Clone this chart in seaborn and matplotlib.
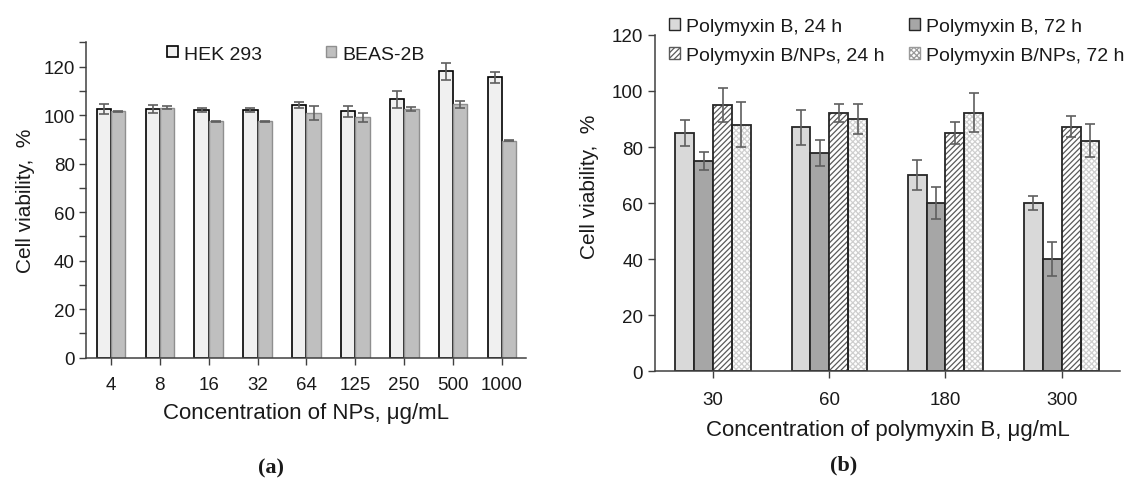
import matplotlib
matplotlib.use("Agg")
import matplotlib.pyplot as plt
import numpy as np
import pandas as pd
import seaborn as sns
from matplotlib.patches import Patch, Rectangle
from matplotlib.ticker import MultipleLocator

# ---------------- data: panel (a) ----------------
conc_a = ['4', '8', '16', '32', '64', '125', '250', '500', '1000']
series_a = ['HEK 293', 'BEAS-2B']
hek = [102.5, 102.5, 102.0, 102.0, 104.0, 101.5, 106.5, 118.0, 115.5]
hek_err = [2.0, 1.6, 0.8, 0.8, 1.2, 2.4, 3.6, 3.5, 2.2]
beas = [101.5, 103.0, 97.5, 97.5, 101.0, 99.0, 102.5, 104.5, 89.5]
beas_err = [0.3, 0.6, 0.2, 0.2, 2.9, 1.9, 0.9, 1.5, 0.2]

# ---------------- data: panel (b) ----------------
conc_b = ['30', '60', '180', '300']
series_b = ['Polymyxin B, 24 h', 'Polymyxin B, 72 h',
            'Polymyxin B/NPs, 24 h', 'Polymyxin B/NPs, 72 h']
pb24 = [85.0, 87.0, 70.0, 60.0]
pb24_err = [4.5, 6.2, 5.5, 2.4]
pb72 = [75.0, 78.0, 60.0, 40.0]
pb72_err = [3.2, 4.6, 5.8, 6.0]
pbnp24 = [95.0, 92.2, 85.0, 87.2]
pbnp24_err = [5.9, 3.2, 4.1, 3.8]
pbnp72 = [88.0, 90.0, 92.3, 82.2]
pbnp72_err = [8.1, 5.5, 6.8, 5.9]

sns.set_style("ticks")
plt.rcParams['font.family'] = ['Liberation Sans', 'DejaVu Sans']
plt.rcParams['hatch.linewidth'] = 0.9

TXT = '#1a1a1a'
AXC = '#404040'
ERR = '#5f5f5f'
TICK_FS = 13.5
LAB_FS = 16
LEG_FS = 14

fig = plt.figure(figsize=(11.29, 4.81), dpi=100)
axA = fig.add_axes([0.0766, 0.2543, 0.3897, 0.6557])
axB = fig.add_axes([0.5802, 0.2260, 0.4116, 0.6994])

# ---------------- panel (a) ----------------
dfa = pd.DataFrame({
    'conc': conc_a * 2,
    'group': [series_a[0]] * len(conc_a) + [series_a[1]] * len(conc_a),
    'value': hek + beas,
})
sns.barplot(data=dfa, x='conc', y='value', hue='group', order=conc_a,
            hue_order=series_a, palette=['#f0f0f0', '#bfbfbf'],
            width=0.585, gap=0, errorbar=None, legend=False, ax=axA,
            saturation=1)
edges_a = ['#000000', '#8f8f8f']
lws_a = [1.2, 1.0]
for cont, ec, lw, errs in zip(axA.containers, edges_a, lws_a, [hek_err, beas_err]):
    xs, ys = [], []
    for p in cont:
        p.set_edgecolor(ec)
        p.set_linewidth(lw)
        xs.append(p.get_x() + p.get_width() / 2)
        ys.append(p.get_height())
    axA.errorbar(xs, ys, yerr=errs, fmt='none', ecolor=ERR, elinewidth=1.2,
                 capsize=3.6, capthick=1.2, zorder=5)

axA.set_ylim(0, 130)
axA.set_xlim(-0.5, len(conc_a) - 0.5)
axA.yaxis.set_minor_locator(MultipleLocator(10))
axA.set_yticks([0, 20, 40, 60, 80, 100, 120])
axA.set_xlabel('Concentration of NPs, μg/mL', fontsize=LAB_FS, color=TXT, labelpad=7)
axA.set_ylabel('Cell viability,  %', fontsize=15, color=TXT, labelpad=6)
axA.tick_params(axis='both', labelsize=TICK_FS, colors=AXC, labelcolor=TXT, length=5, width=1)
axA.tick_params(axis='y', which='minor', length=5, width=1, colors=AXC)
axA.tick_params(axis='x', pad=8)
for s in ['top', 'right']:
    axA.spines[s].set_visible(False)
for s in ['left', 'bottom']:
    axA.spines[s].set_color(AXC)
    axA.spines[s].set_linewidth(1.1)

handles_a = [Patch(facecolor='#f0f0f0', edgecolor='#000000', linewidth=1.2),
             Patch(facecolor='#bfbfbf', edgecolor='#8f8f8f', linewidth=1.0)]
fig.legend(handles_a, series_a, loc='center left',
           bbox_to_anchor=(167 / 1129, 1 - 55 / 481), ncol=2, frameon=False,
           fontsize=LEG_FS, handlelength=0.55, handleheight=0.55, handletextpad=0.3,
           columnspacing=3.3, borderpad=0, borderaxespad=0, labelcolor=TXT)

# ---------------- panel (b) ----------------
vals_b = [pb24, pb72, pbnp24, pbnp72]
errs_b = [pb24_err, pb72_err, pbnp24_err, pbnp72_err]
dfb = pd.DataFrame({
    'conc': conc_b * 4,
    'group': [g for g in series_b for _ in conc_b],
    'value': [v for vs in vals_b for v in vs],
})
fills_b = ['#d9d9d9', '#a6a6a6', '#ffffff', '#ffffff']
sns.barplot(data=dfb, x='conc', y='value', hue='group', order=conc_b,
            hue_order=series_b, palette=fills_b, width=0.65, gap=0,
            errorbar=None, legend=False, ax=axB, saturation=1)
hatches = [None, None, '//////', 'xxxxxx']
hatch_cols = [None, None, '#5a5a5a', '#cfcfcf']
for cont, h, hc, errs in zip(axB.containers, hatches, hatch_cols, errs_b):
    xs, ys = [], []
    for p in cont:
        if h is None:
            p.set_edgecolor('#262626')
            p.set_linewidth(1.3)
        else:
            p.set_hatch(h)
            p.set_edgecolor(hc)
            p.set_linewidth(0)
            axB.add_patch(Rectangle(p.get_xy(), p.get_width(), p.get_height(),
                                    fill=False, edgecolor='#262626',
                                    linewidth=1.3, zorder=p.get_zorder() + 0.1))
        xs.append(p.get_x() + p.get_width() / 2)
        ys.append(p.get_height())
    axB.errorbar(xs, ys, yerr=errs, fmt='none', ecolor=ERR, elinewidth=1.2,
                 capsize=3.6, capthick=1.2, zorder=5)

axB.set_ylim(0, 120)
axB.set_xlim(-0.5, len(conc_b) - 0.5)
axB.set_yticks([0, 20, 40, 60, 80, 100, 120])
axB.set_xlabel('Concentration of polymyxin B, μg/mL', fontsize=LAB_FS, color=TXT, labelpad=8)
axB.set_ylabel('Cell viability,  %', fontsize=15, color=TXT)
axB.yaxis.set_label_coords(-0.12, 0.55)
axB.tick_params(axis='both', labelsize=TICK_FS, colors=AXC, labelcolor=TXT, length=5, width=1)
axB.tick_params(axis='x', pad=9)
for s in ['top', 'right']:
    axB.spines[s].set_visible(False)
for s in ['left', 'bottom']:
    axB.spines[s].set_color(AXC)
    axB.spines[s].set_linewidth(1.1)

handles_b = [Patch(facecolor='#d9d9d9', edgecolor='#262626', linewidth=1.0),
             Patch(facecolor='#a6a6a6', edgecolor='#262626', linewidth=1.0),
             Patch(facecolor='#ffffff', edgecolor='#5a5a5a', hatch='//////', linewidth=1.0),
             Patch(facecolor='#ffffff', edgecolor='#9a9a9a', hatch='xxxxxx', linewidth=1.0)]
order = [0, 2, 1, 3]
fig.legend([handles_b[i] for i in order], [series_b[i] for i in order],
           loc='center left', bbox_to_anchor=(669 / 1129, 1 - 42 / 481), ncol=2,
           frameon=False, fontsize=LEG_FS, handlelength=0.55, handleheight=0.55,
           handletextpad=0.3, columnspacing=1.3, labelspacing=0.6,
           borderpad=0, borderaxespad=0, labelcolor=TXT)

# panel letters
fig.text(271 / 1129, 1 - 468 / 481, '(a)', ha='center', va='center',
         fontsize=16, fontweight='bold', family='Liberation Serif', color=TXT)
fig.text(844 / 1129, 1 - 465 / 481, '(b)', ha='center', va='center',
         fontsize=16, fontweight='bold', family='Liberation Serif', color=TXT)

fig.savefig('out.png', dpi=100, facecolor='white')
